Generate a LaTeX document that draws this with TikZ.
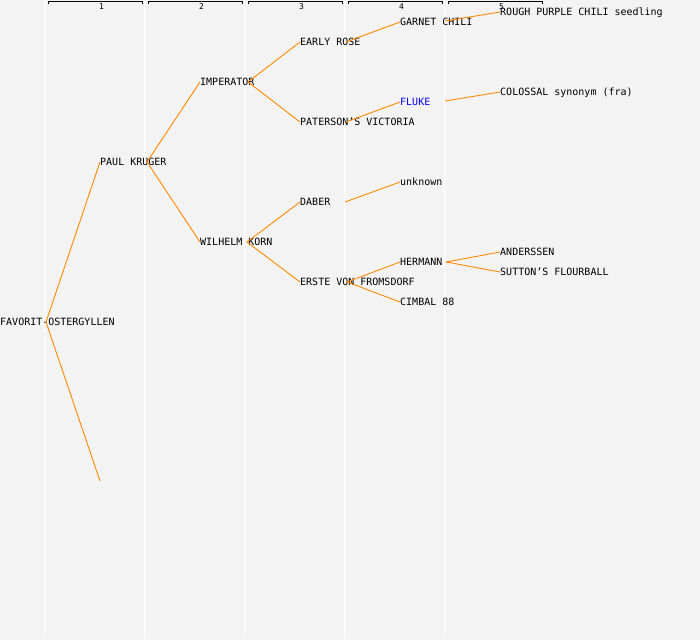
\documentclass[tikz,border=0pt]{standalone}
\usepackage{fontspec}
\usepackage[dvipsnames]{xcolor}
\newfontfamily\treefont{DejaVu Sans Mono}
\definecolor{treeorange}{RGB}{255,136,0}
\definecolor{treebg}{RGB}{243,243,243}
\definecolor{treeblue}{RGB}{0,0,255}

\begin{document}
\begin{tikzpicture}[x=1pt,y=-1pt,
    main node/.style={anchor=west,inner sep=0pt,text height=7.3pt,text depth=0pt,font=\treefont\fontsize{10pt}{12pt}\selectfont},
    head node/.style={inner sep=0pt,font=\treefont\fontsize{8pt}{9pt}\selectfont},
    link/.style={draw=treeorange,line width=0.9pt},
    column/.style={draw=white,line width=1pt}]
                % background and columns
                \fill[treebg] (0,0) rectangle (700,640);
                \useasboundingbox (0,0) rectangle (700,640);
                \foreach \x in {44,144,244,344,444}
                    \draw[column] (\x,0) -- (\x,638);
                \foreach \k in {1,...,5} {
                    \draw[line width=0.8pt] (100*\k-52,4) -- (100*\k-52,1) -- (100*\k+42,1) -- (100*\k+42,4);
                    \node[head node] (h\k) at (100*\k+1.5,6.5) {\k};
                }

                \node[main node] (1) at (0,322) {FAVORIT-OSTERGYLLEN};
                \node[main node] (2) at (100,162) {PAUL KRUGER};
                \node[main node] (3) at (200,82) {IMPERATOR};
                \node[main node] (4) at (200,242) {WILHELM KORN};
                \node[main node] (5) at (300,42) {EARLY ROSE};
                \node[main node] (6) at (300,122) {PATERSON’S VICTORIA};
                \node[main node] (7) at (300,202) {DABER};
                \node[main node] (8) at (300,282) {ERSTE VON FROMSDORF};
                \node[main node] (9) at (400,22) {GARNET CHILI};
                \node[main node,text=treeblue] (10) at (400,102) {FLUKE};
                \node[main node] (11) at (400,182) {unknown};
                \node[main node] (12) at (400,262) {HERMANN};
                \node[main node] (13) at (400,302) {CIMBAL 88};
                \node[main node] (14) at (500,12) {ROUGH PURPLE CHILI seedling};
                \node[main node] (15) at (500,92) {COLOSSAL synonym (fra)};
                \node[main node] (16) at (500,252) {ANDERSSEN};
                \node[main node] (17) at (500,272) {SUTTON’S FLOURBALL};

                % fork points
                \coordinate (1j) at (46,322);
                \coordinate (2j) at (147,162);
                \coordinate (3j) at (248,82);
                \coordinate (4j) at (247,242);
                \coordinate (5j) at (346,42);
                \coordinate (6j) at (346,122);
                \coordinate (7j) at (345,202);
                \coordinate (8j) at (347,282);
                \coordinate (9j) at (445,21);
                \coordinate (10j) at (445,101);
                \coordinate (12j) at (446,262);
                \coordinate (0) at (100,481);

                \path[link]
                    (1j) edge (2.west)
                    (1j) edge (0)
                    (2j) edge (3.west)
                    (2j) edge (4.west)
                    (3j) edge (5.west)
                    (3j) edge (6.west)
                    (4j) edge (7.west)
                    (4j) edge (8.west)
                    (5j) edge (9.west)
                    (6j) edge (10.west)
                    (7j) edge (11.west)
                    (8j) edge (12.west)
                    (8j) edge (13.west)
                    (9j) edge (14.west)
                    (10j) edge (15.west)
                    (12j) edge (16.west)
                    (12j) edge (17.west)
                    ;
            \end{tikzpicture}
\end{document}
